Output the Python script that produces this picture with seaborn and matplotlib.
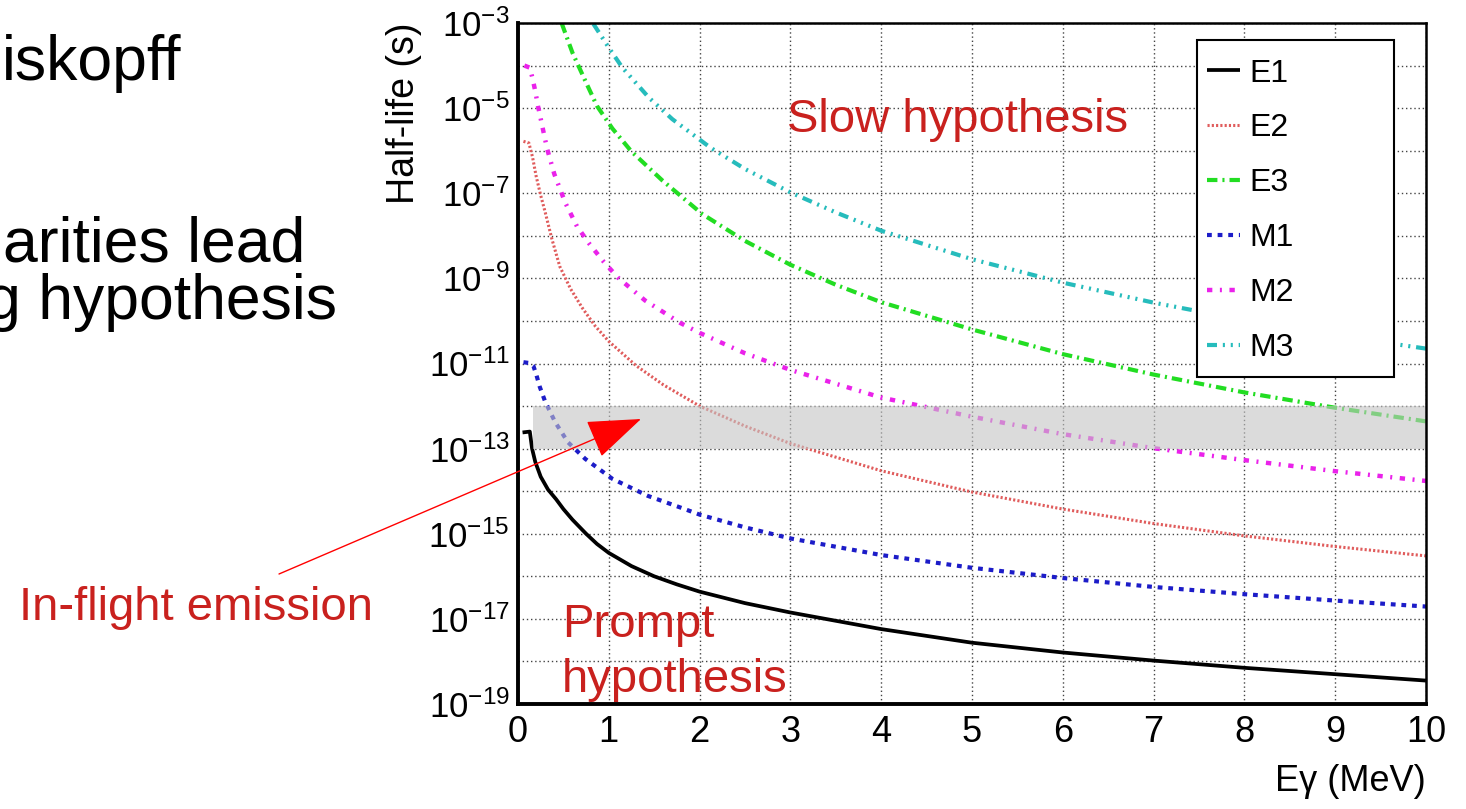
import numpy as np
import pandas as pd
import matplotlib
matplotlib.use("Agg")
import matplotlib.pyplot as plt
import seaborn as sns
from matplotlib.patches import Rectangle
from matplotlib.ticker import FixedLocator, FixedFormatter, NullFormatter

sns.set_style("white")
plt.rcParams['font.family'] = ['Liberation Sans', 'DejaVu Sans']
plt.rcParams['mathtext.fontset'] = 'custom'
plt.rcParams['mathtext.rm'] = 'Liberation Sans'
plt.rcParams['mathtext.it'] = 'Liberation Sans:italic'
plt.rcParams['mathtext.bf'] = 'Liberation Sans:bold'
for key in ['text.color', 'axes.labelcolor', 'xtick.color', 'ytick.color']:
    plt.rcParams[key] = 'black'

# ---------------- data (log10 of half-life in s) -------------
E1_x = [0.05, 0.13, 0.155, 0.19, 0.25, 0.33, 0.42, 0.5, 0.6, 0.75, 0.87, 1.0, 1.25, 1.5, 1.75, 2.0, 2.5, 3, 4, 5, 6, 7, 8, 9, 10]
E1_log = [-12.62, -12.60, -13.0, -13.31, -13.66, -13.96, -14.19, -14.42, -14.67, -15.0, -15.24, -15.45, -15.76,
          -16.0, -16.19, -16.36, -16.63, -16.85, -17.24, -17.56, -17.79, -17.98, -18.15, -18.30, -18.45]

E2_x = [0.06, 0.12, 0.16, 0.2, 0.25, 0.3, 0.37, 0.46, 0.58, 0.71, 0.85, 1.0, 1.3, 1.6, 2.0, 2.5, 3, 4, 5, 6, 7, 8, 9, 10]
E2_log = [-5.78, -5.82, -6.15, -6.6, -7.05, -7.45, -8.05, -8.72, -9.25, -9.7, -10.12, -10.48, -11.05, -11.5,
          -12.0, -12.47, -12.88, -13.52, -14.02, -14.42, -14.76, -15.05, -15.30, -15.52]

E3_x = [0.48, 0.6, 0.75, 0.87, 1.04, 1.25, 1.59, 2.03, 2.5, 3, 3.5, 4, 5, 6, 7, 8, 9, 10]
E3_log = [-3.0, -3.7, -4.4, -4.95, -5.48, -6.02, -6.7, -7.49, -8.12, -8.68, -9.15, -9.56, -10.2, -10.78,
          -11.26, -11.68, -12.04, -12.36]

M1_x = [0.06, 0.13, 0.17, 0.2, 0.24, 0.3, 0.41, 0.55, 0.74, 1.04, 1.43, 1.81, 2.0, 2.5, 3, 4, 5, 6, 7, 8, 9, 10]
M1_log = [-10.97, -10.99, -11.06, -11.25, -11.55, -11.9, -12.38, -12.85, -13.24, -13.71, -14.11, -14.40, -14.55,
          -14.85, -15.11, -15.50, -15.80, -16.04, -16.25, -16.42, -16.57, -16.71]

M2_x = [0.07, 0.13, 0.16, 0.19, 0.22, 0.27, 0.32, 0.4, 0.52, 0.65, 0.79, 0.94, 1.1, 1.4, 1.79, 2.0, 2.5, 3, 4, 5, 6, 7, 8, 9, 10]
M2_log = [-4.0, -4.05, -4.3, -4.6, -4.95, -5.45, -5.95, -6.55, -7.22, -7.78, -8.2, -8.6, -8.98, -9.52,
          -10.05, -10.28, -10.76, -11.15, -11.8, -12.25, -12.66, -12.99, -13.27, -13.53, -13.76]

M3_x = [0.83, 1.0, 1.15, 1.44, 1.7, 2.12, 2.5, 3, 3.5, 4, 5, 6, 7, 8, 9, 10]
M3_log = [-3.02, -3.58, -4.05, -4.75, -5.26, -5.93, -6.43, -6.98, -7.45, -7.88, -8.55, -9.1, -9.57,
          -9.98, -10.34, -10.65]

series_names = ["E1", "E2", "E3", "M1", "M2", "M3"]
series_x = [E1_x, E2_x, E3_x, M1_x, M2_x, M3_x]
series_log = [E1_log, E2_log, E3_log, M1_log, M2_log, M3_log]

band_low, band_high, band_start = 1e-13, 1e-12, 0.165
x_ticks = list(range(0, 11))
y_exponents = list(range(-19, -2))

# ---------------- styles ------------------------------------------------------------
colors = {"E1": "#000000", "E2": "#e05c5c", "E3": "#22dd22", "M1": "#1c1cc8", "M2": "#ea22ea", "M3": "#26bcbc"}
widths = {"E1": 2.7, "E2": 2.2, "E3": 3.0, "M1": 3.0, "M2": 3.2, "M3": 3.0}
styles = {
    "E1": "-",
    "E2": (0, (0.7, 0.7)),
    "E3": (0, (2.5, 1.2, 0.5, 1.2)),
    "M1": (0, (1.15, 1.4)),
    "M2": (0, (1.2, 1.7, 0.45, 1.7)),
    "M3": (0, (2.4, 1.4, 0.5, 1.4, 0.5, 1.4, 0.5, 1.4)),
}

W, H = 1466, 809
fig = plt.figure(figsize=(W / 100, H / 100), dpi=100)
ax = fig.add_axes([518 / W, (H - 704) / H, (1426 - 518) / W, (704 - 23) / H])
ax.set_yscale("log")

frames = []
for name, xs, ls in zip(series_names, series_x, series_log):
    frames.append(pd.DataFrame({"E": xs, "T": 10.0 ** np.array(ls), "series": name}))
df = pd.concat(frames, ignore_index=True)

handles = []
for name in series_names:
    sub = df[df["series"] == name]
    sns.lineplot(data=sub, x="E", y="T", ax=ax, color=colors[name], lw=widths[name],
                 estimator=None, sort=False, legend=False, zorder=3)
    line = ax.lines[-1]
    line.set_linestyle(styles[name])
    line.set_label(name)
    line.set_solid_capstyle("butt")
    line.set_dash_capstyle("butt")
    line.set_solid_joinstyle("round")
    handles.append(line)

ax.axhspan(band_low, band_high, xmin=band_start / 10, xmax=1, color="#c4c4c4", alpha=0.6, lw=0, zorder=4)

ax.set_xlim(0, 10)
ax.set_ylim(1e-19, 1e-3)

ax.xaxis.set_major_locator(FixedLocator(x_ticks))
ax.xaxis.set_minor_locator(FixedLocator([v / 5 for v in range(0, 51) if v % 5]))
ax.set_xticklabels([str(v) for v in x_ticks])
ax.yaxis.set_major_locator(FixedLocator([10.0 ** k for k in y_exponents]))
ax.yaxis.set_major_formatter(FixedFormatter([rf"$10^{{{k}}}$" if k % 2 == 1 else "" for k in y_exponents]))
ax.yaxis.set_minor_locator(FixedLocator([5 * 10.0 ** k for k in range(-20, -3)]))
ax.yaxis.set_minor_formatter(NullFormatter())

ax.tick_params(axis="x", which="major", direction="in", length=14, width=1.6, labelsize=26, pad=8, colors="black")
ax.tick_params(axis="x", which="minor", direction="in", length=7, width=1.3, colors="black")
ax.tick_params(axis="y", which="major", direction="in", length=21, width=1.9, labelsize=25, pad=6, colors="black")
ax.tick_params(axis="y", which="minor", direction="in", length=10.5, width=1.7, colors="black")

ax.grid(True, which="major", linestyle=(0, (1, 2)), color="#444444", lw=1.0)
ax.set_axisbelow(True)
for side in ["left", "bottom"]:
    ax.spines[side].set_linewidth(2.8)
for side in ["top", "right"]:
    ax.spines[side].set_linewidth(1.8)
for s in ax.spines.values():
    s.set_color("black")
    s.set_zorder(6)

ax.set_ylabel("Half-life (s)", fontsize=27, loc="top", labelpad=5)
ax.set_xlabel("E\u03b3 (MeV)", fontsize=26, loc="right", labelpad=10)

# legend box (fixed size, like the original)
x0 = (1197 - 518) / 908
y0 = (704 - 377) / 681
x1 = (1394 - 518) / 908
y1 = (704 - 40) / 681
ax.add_patch(Rectangle((x0, y0), x1 - x0, y1 - y0, transform=ax.transAxes, facecolor="white",
                       edgecolor="black", lw=1.5, zorder=7, clip_on=False))
leg = ax.legend(handles=handles, labels=series_names, loc="upper left", bbox_to_anchor=(x0, (704 - 49) / 681),
                frameon=False, fontsize=23, handlelength=1.05, handletextpad=0.3, labelspacing=0.78,
                borderpad=0.3, borderaxespad=0)
leg.set_zorder(8)

red = "#c9211e"
fig.text(787 / W, 1 - 132 / H, "Slow hypothesis", color=red, fontsize=34, va="baseline", ha="left")
fig.text(562 / W, 1 - 637 / H, "Prompt", color=red, fontsize=34, va="baseline", ha="left", zorder=9)
fig.text(562 / W, 1 - 692 / H, "hypothesis", color=red, fontsize=34, va="baseline", ha="left", zorder=9)
fig.text(19 / W, 1 - 620 / H, "In-flight emission", color=red, fontsize=34, va="baseline", ha="left")

ax.annotate("", xy=(641 / W, 1 - 419 / H), xycoords="figure fraction",
            xytext=(279 / W, 1 - 574 / H), textcoords="figure fraction",
            arrowprops=dict(arrowstyle="-|>,head_length=1.15,head_width=0.42", color="#ff0000", lw=1.0,
                            mutation_scale=30, shrinkA=0, shrinkB=0),
            annotation_clip=False, zorder=9)

# slide text on the left (partly cut off at the left edge, as in the slide)
fig.text(2 / W, 1 - 80 / H, "iskopff", color="black", fontsize=45, va="baseline", ha="left")
fig.text(3 / W, 1 - 262 / H, "arities lead", color="black", fontsize=45, va="baseline", ha="left")
fig.text(-14 / W, 1 - 319 / H, "g hypothesis", color="black", fontsize=45, va="baseline", ha="left")

fig.savefig("out.png", dpi=100, facecolor="white")
